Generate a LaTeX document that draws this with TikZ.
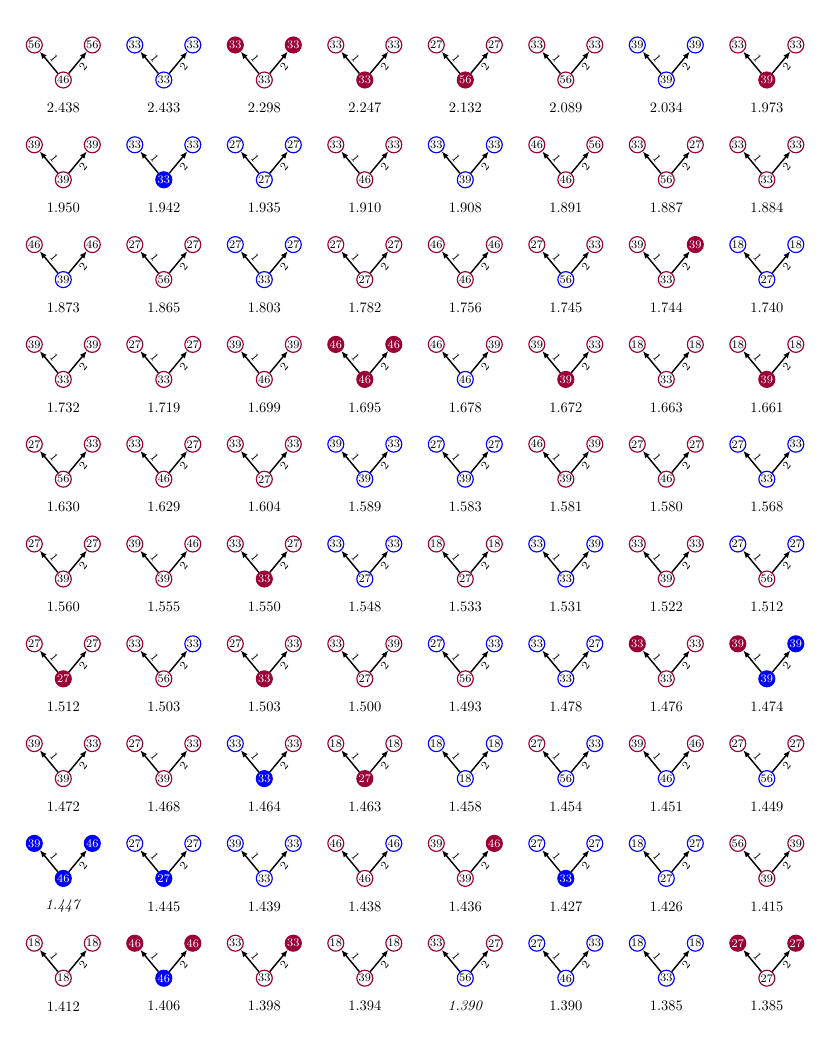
\documentclass[tikz,border=0pt]{standalone}
\usetikzlibrary{arrows.meta}
\definecolor{myred}{RGB}{155,0,55}
\definecolor{myblue}{RGB}{0,0,255}
\tikzset{
  vx/.style={circle, minimum size=11pt, inner sep=0pt, line width=0.8pt, font=\footnotesize},
  vR/.style={vx, draw=myred, fill=white, text=black},
  vB/.style={vx, draw=myblue, fill=white, text=black},
  vRF/.style={vx, draw=myred, fill=myred, text=white},
  vBF/.style={vx, draw=myblue, fill=myblue, text=white},
  arr/.style={-{Latex[length=5pt,width=4pt]}, line width=1pt},
  elab/.style={font=\footnotesize, sloped, inner sep=1.5pt},
  elabA/.style={elab, auto=left},
  elabB/.style={elab, auto=right},
  val/.style={font=\normalsize, inner sep=0pt}
}
% #1 col, #2 row, #3 left val, #4 left style, #5 right val, #6 right style, #7 bottom val, #8 bottom style, #9 label
\newcommand\dg[9]{%
  \pgfmathsetmacro\cx{63.3+100.5*#1}%
  \pgfmathsetmacro\ty{45+99.8*#2}%
  \pgfmathsetmacro\by{80+99.8*#2}%
  \pgfmathsetmacro\ly{108+99.8*#2}%
  \node[v#8] (b#1-#2) at (\cx,\by) {#7};
  \node[v#4] (l#1-#2) at (\cx-29,\ty) {#3};
  \node[v#6] (r#1-#2) at (\cx+29,\ty) {#5};
  \draw[arr] (b#1-#2) -- node[elabA] {1} (l#1-#2);
  \draw[arr] (b#1-#2) -- node[elabB] {2} (r#1-#2);
  \node[val] (t#1-#2) at (\cx,\ly) {#9};
}
\begin{document}
\begin{tikzpicture}[x=0.6897pt,y=-0.6897pt]
\useasboundingbox (0,0) rectangle (830,1037);
% row 1
\dg{0}{0}{56}{R}{56}{R}{46}{R}{2.438}
\dg{1}{0}{33}{B}{33}{B}{33}{B}{2.433}
\dg{2}{0}{33}{RF}{33}{RF}{33}{R}{2.298}
\dg{3}{0}{33}{R}{33}{R}{33}{RF}{2.247}
\dg{4}{0}{27}{R}{27}{R}{56}{RF}{2.132}
\dg{5}{0}{33}{R}{33}{R}{56}{R}{2.089}
\dg{6}{0}{39}{B}{39}{B}{39}{B}{2.034}
\dg{7}{0}{33}{R}{33}{R}{39}{RF}{1.973}
% row 2
\dg{0}{1}{39}{R}{39}{R}{39}{R}{1.950}
\dg{1}{1}{33}{B}{33}{B}{33}{BF}{1.942}
\dg{2}{1}{27}{B}{27}{B}{27}{B}{1.935}
\dg{3}{1}{33}{R}{33}{R}{46}{R}{1.910}
\dg{4}{1}{33}{B}{33}{B}{39}{B}{1.908}
\dg{5}{1}{46}{R}{56}{R}{46}{R}{1.891}
\dg{6}{1}{33}{R}{27}{R}{56}{R}{1.887}
\dg{7}{1}{33}{R}{33}{R}{33}{R}{1.884}
% row 3
\dg{0}{2}{46}{R}{46}{R}{39}{B}{1.873}
\dg{1}{2}{27}{R}{27}{R}{56}{R}{1.865}
\dg{2}{2}{27}{B}{27}{B}{33}{B}{1.803}
\dg{3}{2}{27}{R}{27}{R}{27}{R}{1.782}
\dg{4}{2}{46}{R}{46}{R}{46}{R}{1.756}
\dg{5}{2}{27}{R}{33}{R}{56}{B}{1.745}
\dg{6}{2}{39}{R}{39}{RF}{33}{R}{1.744}
\dg{7}{2}{18}{B}{18}{B}{27}{B}{1.740}
% row 4
\dg{0}{3}{39}{R}{39}{R}{33}{R}{1.732}
\dg{1}{3}{27}{R}{27}{R}{33}{R}{1.719}
\dg{2}{3}{39}{R}{39}{R}{46}{R}{1.699}
\dg{3}{3}{46}{RF}{46}{RF}{46}{RF}{1.695}
\dg{4}{3}{46}{R}{39}{R}{46}{B}{1.678}
\dg{5}{3}{39}{R}{33}{R}{39}{RF}{1.672}
\dg{6}{3}{18}{R}{18}{R}{33}{R}{1.663}
\dg{7}{3}{18}{R}{18}{R}{39}{RF}{1.661}
% row 5
\dg{0}{4}{27}{R}{33}{R}{56}{R}{1.630}
\dg{1}{4}{33}{R}{27}{R}{46}{R}{1.629}
\dg{2}{4}{33}{R}{33}{R}{27}{R}{1.604}
\dg{3}{4}{39}{B}{33}{B}{39}{B}{1.589}
\dg{4}{4}{27}{B}{27}{B}{39}{B}{1.583}
\dg{5}{4}{46}{R}{39}{R}{39}{R}{1.581}
\dg{6}{4}{27}{R}{27}{R}{46}{R}{1.580}
\dg{7}{4}{27}{B}{33}{B}{33}{B}{1.568}
% row 6
\dg{0}{5}{27}{R}{27}{R}{39}{R}{1.560}
\dg{1}{5}{39}{R}{46}{R}{39}{R}{1.555}
\dg{2}{5}{33}{R}{27}{R}{33}{RF}{1.550}
\dg{3}{5}{33}{B}{33}{B}{27}{B}{1.548}
\dg{4}{5}{18}{R}{18}{R}{27}{R}{1.533}
\dg{5}{5}{33}{B}{39}{B}{33}{B}{1.531}
\dg{6}{5}{33}{R}{33}{R}{39}{R}{1.522}
\dg{7}{5}{27}{B}{27}{B}{56}{R}{1.512}
% row 7
\dg{0}{6}{27}{R}{27}{R}{27}{RF}{1.512}
\dg{1}{6}{33}{R}{33}{B}{56}{R}{1.503}
\dg{2}{6}{27}{R}{33}{R}{33}{RF}{1.503}
\dg{3}{6}{33}{R}{39}{R}{27}{R}{1.500}
\dg{4}{6}{27}{B}{33}{B}{56}{R}{1.493}
\dg{5}{6}{33}{B}{27}{B}{33}{B}{1.478}
\dg{6}{6}{33}{RF}{33}{R}{33}{R}{1.476}
\dg{7}{6}{39}{RF}{39}{BF}{39}{BF}{1.474}
% row 8
\dg{0}{7}{39}{R}{33}{R}{39}{R}{1.472}
\dg{1}{7}{27}{R}{33}{R}{39}{R}{1.468}
\dg{2}{7}{33}{B}{33}{R}{33}{BF}{1.464}
\dg{3}{7}{18}{R}{18}{R}{27}{RF}{1.463}
\dg{4}{7}{18}{B}{18}{B}{18}{B}{1.458}
\dg{5}{7}{27}{R}{33}{B}{56}{B}{1.454}
\dg{6}{7}{39}{R}{46}{R}{46}{B}{1.451}
\dg{7}{7}{27}{R}{27}{R}{56}{B}{1.449}
% row 9
\dg{0}{8}{39}{BF}{46}{BF}{46}{BF}{\textit{1.447}}
\dg{1}{8}{27}{B}{27}{B}{27}{BF}{1.445}
\dg{2}{8}{39}{B}{33}{B}{33}{B}{1.439}
\dg{3}{8}{46}{R}{46}{B}{46}{R}{1.438}
\dg{4}{8}{39}{R}{46}{RF}{39}{R}{1.436}
\dg{5}{8}{27}{B}{27}{B}{33}{BF}{1.427}
\dg{6}{8}{18}{B}{27}{B}{27}{B}{1.426}
\dg{7}{8}{56}{R}{39}{R}{39}{R}{1.415}
% row 10
\dg{0}{9}{18}{R}{18}{R}{18}{R}{1.412}
\dg{1}{9}{46}{RF}{46}{RF}{46}{BF}{1.406}
\dg{2}{9}{33}{R}{33}{RF}{33}{R}{1.398}
\dg{3}{9}{18}{R}{18}{R}{39}{R}{1.394}
\dg{4}{9}{33}{R}{27}{R}{56}{B}{\textit{1.390}}
\dg{5}{9}{27}{B}{33}{B}{46}{B}{1.390}
\dg{6}{9}{18}{B}{18}{B}{33}{B}{1.385}
\dg{7}{9}{27}{RF}{27}{RF}{27}{R}{1.385}
\end{tikzpicture}
\end{document}
